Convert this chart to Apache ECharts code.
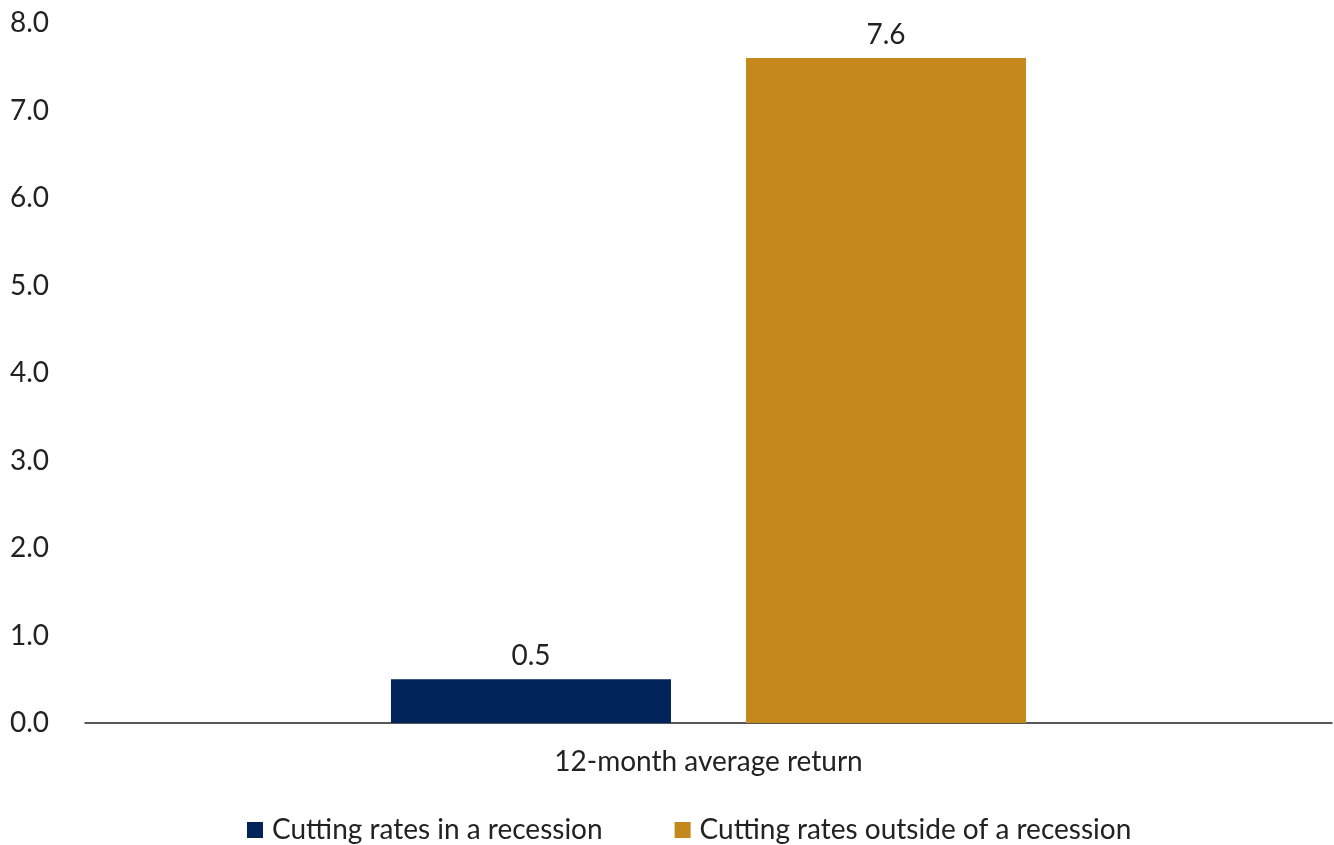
<!DOCTYPE html>
<html><head><meta charset="utf-8">
<script src="https://cdn.jsdelivr.net/npm/echarts@6/dist/echarts.min.js"></script>
<style>html,body{margin:0;padding:0;background:#fff}#c{width:1334px;height:845px}</style>
</head><body><div id="c"></div>
<script>
const categories = ['12-month average return'];
const seriesNames = ['Cutting rates in a recession', 'Cutting rates outside of a recession'];
const inRecession = [0.5];
const outsideRecession = [7.6];
const yTicks = [0, 1, 2, 3, 4, 5, 6, 7, 8];

const FONT = 'Lato, "Open Sans", sans-serif';
const chart = echarts.init(document.getElementById('c'));
chart.setOption({
  animation: false,
  textStyle: { fontFamily: FONT },
  grid: { left: 85, right: 2, top: 23, bottom: 122, containLabel: false },
  legend: {
    top: 811, left: 242, itemWidth: 16, itemHeight: 16, itemGap: 72,
    icon: 'rect',
    textStyle: { fontSize: 28, color: '#222', fontFamily: FONT, padding: [0, 0, 0, 4] },
    data: seriesNames
  },
  xAxis: {
    type: 'category', data: categories,
    axisLine: { lineStyle: { color: '#222', width: 1.5 } },
    axisTick: { show: false },
    axisLabel: { fontSize: 28, color: '#222', margin: 25, fontFamily: FONT }
  },
  yAxis: {
    type: 'value', min: yTicks[0], max: yTicks[yTicks.length - 1], interval: 1,
    axisLine: { show: false }, axisTick: { show: false },
    splitLine: { show: false },
    axisLabel: { fontSize: 28, color: '#222', margin: 75, align: 'left', fontFamily: FONT,
      formatter: v => v.toFixed(1) }
  },
  series: [
    { name: seriesNames[0], type: 'bar', data: inRecession, barWidth: 280, barGap: '26.8%',
      itemStyle: { color: '#00245A' },
      label: { show: true, position: 'top', distance: 9, fontSize: 28, color: '#222', formatter: p => p.value.toFixed(1) } },
    { name: seriesNames[1], type: 'bar', data: outsideRecession, barWidth: 280,
      itemStyle: { color: '#C4891A' },
      label: { show: true, position: 'top', distance: 9, fontSize: 28, color: '#222', formatter: p => p.value.toFixed(1) } }
  ]
});
</script></body></html>
